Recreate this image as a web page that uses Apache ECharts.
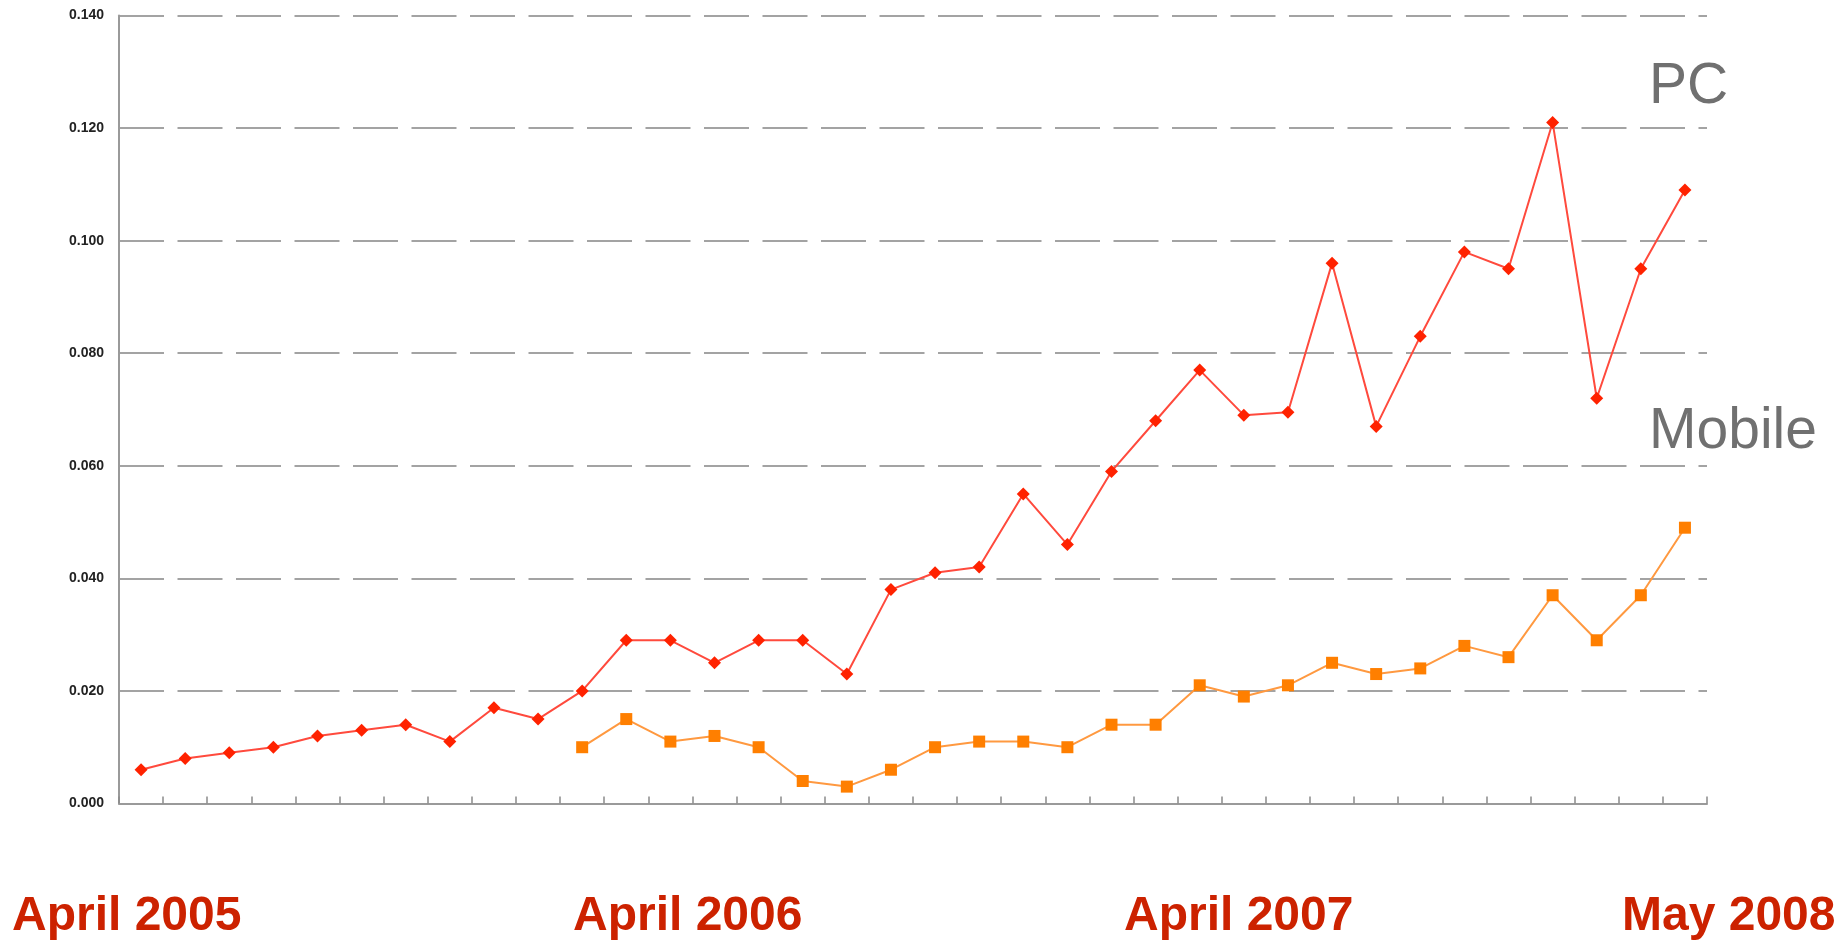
<!DOCTYPE html>
<html>
<head>
<meta charset="utf-8">
<title>PC vs Mobile</title>
<script src="https://cdn.jsdelivr.net/npm/echarts@6/dist/echarts.min.js"></script>
<style>
    html, body { margin: 0; padding: 0; background: #fff; }
    #chart { width: 1842px; height: 946px; }
</style>
</head>
<body>
<div id="chart"></div>
<script>
// 36 monthly samples, April 2005 .. May 2008
var categories = [];
for (var i = 0; i < 36; i++) categories.push("m" + (i + 1));

var pcData = [0.006, 0.008, 0.009, 0.010, 0.012, 0.013, 0.014, 0.011, 0.017, 0.015,
    0.020, 0.029, 0.029, 0.025, 0.029, 0.029, 0.023, 0.038, 0.041, 0.042,
    0.055, 0.046, 0.059, 0.068, 0.077, 0.069, 0.0695, 0.096, 0.067, 0.083,
    0.098, 0.095, 0.121, 0.072, 0.095, 0.109];

var mobileData = [null, null, null, null, null, null, null, null, null, null,
    0.010, 0.015, 0.011, 0.012, 0.010, 0.004, 0.003, 0.006, 0.010, 0.011,
    0.011, 0.010, 0.014, 0.014, 0.021, 0.019, 0.021, 0.025, 0.023, 0.024,
    0.028, 0.026, 0.037, 0.029, 0.037, 0.049];

var dateLabels = ["April 2005", "April 2006", "April 2007", "May 2008"];
var seriesLabels = ["PC", "Mobile"];

var chart = echarts.init(document.getElementById("chart"));

function label(text, x, y, font, color) {
    return {
        type: "text",
        x: x,
        y: y,
        style: { text: text, verticalAlign: "middle", font: font, fill: color }
    };
}

chart.setOption({
    animation: false,
    grid: {
        left: 119,
        right: 135,
        top: 15.5,
        bottom: 142.5
    },
    xAxis: {
        type: "category",
        data: categories,
        boundaryGap: true,
        axisLine: {
            lineStyle: { color: "#9a9a9a", width: 2 }
        },
        axisTick: {
            show: true,
            interval: 0,
            inside: true,
            length: 7,
            lineStyle: { color: "#8a8a8a", width: 1.5 }
        },
        axisLabel: { show: false },
        splitLine: { show: false }
    },
    yAxis: {
        type: "value",
        min: 0,
        max: 0.14,
        interval: 0.02,
        axisLine: {
            show: true,
            lineStyle: { color: "#9a9a9a", width: 2 }
        },
        axisTick: { show: false },
        axisLabel: {
            margin: 15,
            fontFamily: "Liberation Sans",
            fontSize: 14,
            fontWeight: "bold",
            color: "#222",
            formatter: function (v) { return v.toFixed(3); }
        },
        splitLine: {
            lineStyle: { color: "#a3a3a3", width: 2, type: [45, 13.5] }
        }
    },
    series: [
        {
            name: "PC",
            type: "line",
            data: pcData,
            symbol: "diamond",
            symbolSize: 13,
            itemStyle: { color: "#ff2200" },
            lineStyle: { color: "#ff4a3d", width: 2 }
        },
        {
            name: "Mobile",
            type: "line",
            data: mobileData,
            symbol: "rect",
            symbolSize: 12,
            itemStyle: { color: "#ff7f00" },
            lineStyle: { color: "#ff9940", width: 2 }
        }
    ],
    graphic: [
        label(seriesLabels[0], 1649, 87, "57px 'Liberation Sans'", "#707070"),
        label(seriesLabels[1], 1649, 432, "57px 'Liberation Sans'", "#707070"),
        label(dateLabels[0], 12, 917, "bold 48px 'Liberation Sans'", "#cc2200"),
        label(dateLabels[1], 573, 917, "bold 48px 'Liberation Sans'", "#cc2200"),
        label(dateLabels[2], 1124, 917, "bold 48px 'Liberation Sans'", "#cc2200"),
        label(dateLabels[3], 1622, 917, "bold 48px 'Liberation Sans'", "#cc2200")
    ]
});
</script>
</body>
</html>
